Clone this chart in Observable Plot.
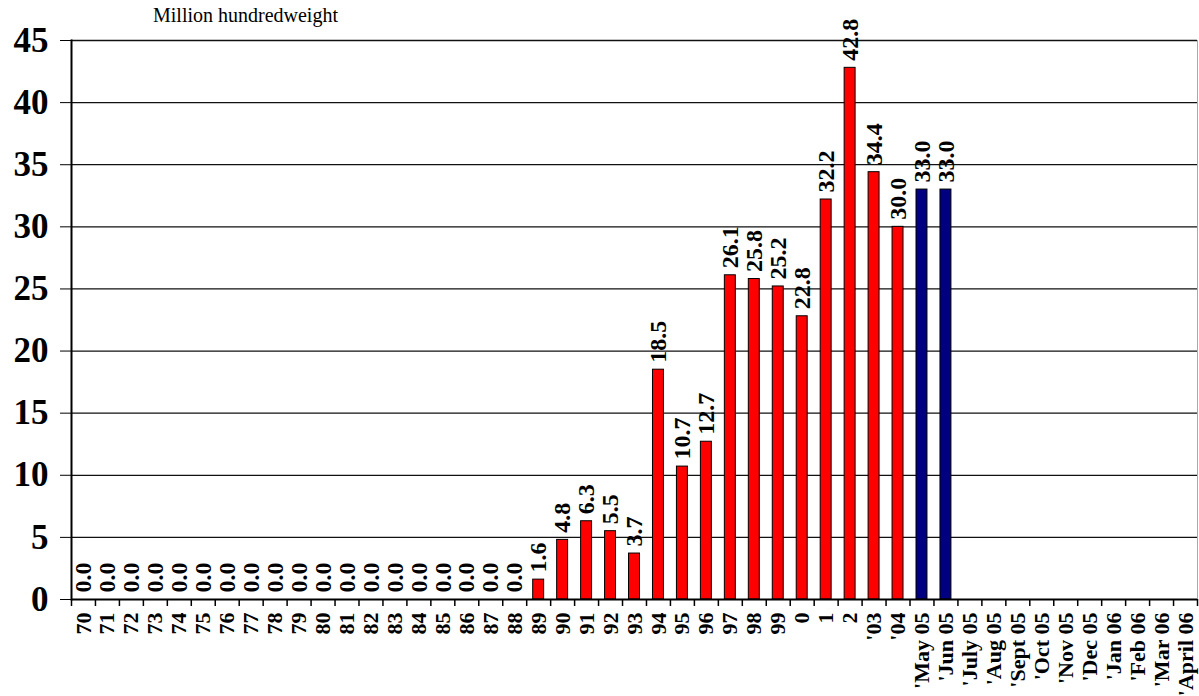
<!DOCTYPE html>
<html>
<head>
<meta charset="utf-8">
<script src="https://cdn.jsdelivr.net/npm/d3@7"></script>
<script src="https://cdn.jsdelivr.net/npm/@observablehq/plot@0.6"></script>
<style>
  body { margin: 0; background: #fff; position: relative; }
  #title { position: absolute; left: 153px; top: 0; height: 30px; line-height: 30px; font-family: "Liberation Serif", serif; font-size: 20px; color: #000; }
</style>
</head>
<body>
<div id="chart"></div>
<div id="title">Million hundredweight</div>
<script>
const categories = ["70","71","72","73","74","75","76","77","78","79","80","81","82","83","84","85","86","87","88",
  "89","90","91","92","93","94","95","96","97","98","99","0","1","2","'03","'04",
  "'May 05","'Jun 05","'July 05","'Aug 05","'Sept 05","'Oct 05","'Nov 05","'Dec 05","'Jan 06","'Feb 06","'Mar 06","'April 06"];
const values = [0,0,0,0,0,0,0,0,0,0,0,0,0,0,0,0,0,0,0,
  1.6,4.8,6.3,5.5,3.7,18.5,10.7,12.7,26.1,25.8,25.2,22.8,32.2,42.8,34.4,30.0,
  33.0,33.0,null,null,null,null,null,null,null,null,null,null];
const seriesOf = categories.map((c, i) => i < 35 ? "Actual" : "Projected");
const yTicks = [0,5,10,15,20,25,30,35,40,45];

const data = categories.map((c, i) => ({cat: c, value: values[i], series: seriesOf[i]}));
const shown = data.filter(d => d.value != null);

const W = 1199, H = 696, mL = 71, mR = 2;
const bw = (W - mL - mR) / categories.length;

const chart = Plot.plot({
  width: W,
  height: H,
  marginTop: 40,
  marginBottom: 97,
  marginLeft: mL,
  marginRight: mR,
  style: {fontFamily: "Liberation Serif, serif", fontWeight: "bold", color: "#000", background: "#fff"},
  x: {domain: categories, padding: 0, label: null},
  y: {domain: [0, 45], label: null},
  color: {domain: ["Actual", "Projected"], range: ["#ff0000", "#000080"]},
  marks: [
    Plot.ruleY(yTicks.filter(t => t > 0), {stroke: "#111", strokeWidth: 1.3}),
    Plot.frame({anchor: "right", stroke: "#aaa", strokeWidth: 1}),
    Plot.barY(shown, {x: "cat", y: "value", fill: "series", stroke: "#000", strokeWidth: 1, insetLeft: 6.5, insetRight: 6.5}),
    Plot.text(shown, {x: "cat", y: "value", text: d => d.value.toFixed(1), rotate: -90, textAnchor: "start", dy: -7, fontSize: 24, fontWeight: "bold", fill: "#000"}),
    Plot.ruleY([0], {stroke: "#000", strokeWidth: 2}),
    Plot.frame({anchor: "left", stroke: "#000", strokeWidth: 2}),
    Plot.axisY({ticks: yTicks, tickSize: 11, tickPadding: 12, fontSize: 35, fontWeight: "bold", tickFormat: d => String(d), label: null}),
    Plot.axisX({tickSize: 7, tickFormat: () => "", dx: -bw / 2, label: null, strokeWidth: 1.5}),
    Plot.axisX(["'April 06"], {tickSize: 7, tickFormat: () => "", dx: bw / 2, label: null, strokeWidth: 1.5}),
    Plot.axisX({tickSize: 0, tickPadding: 13, tickRotate: -90, fontSize: 22, fontWeight: "bold", label: null})
  ]
});
document.getElementById("chart").appendChild(chart);
</script>
</body>
</html>
